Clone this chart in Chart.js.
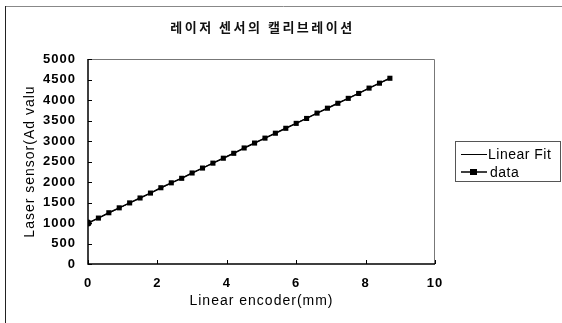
<!DOCTYPE html>
<html><head><meta charset="utf-8">
<script src="https://cdn.jsdelivr.net/npm/chart.js@4/dist/chart.umd.min.js"></script>
<style>html,body{margin:0;padding:0;background:#fff;overflow:hidden}#wrap{position:relative;width:562px;height:323px}canvas{display:block}</style>
</head><body><div id="wrap"><canvas id="c" width="562" height="323"></canvas></div>
<script>
const chartTitle = '레이저 센서의 캘리브레이션';
const xAxisTitle = 'Linear encoder(mm)';
const yAxisTitle = 'Laser sensor(Ad valu';
const seriesNames = ['Linear Fit', 'data'];
const encoderMm = [0, 0.3, 0.6, 0.9, 1.2, 1.5, 1.8, 2.1, 2.4, 2.7, 3.0, 3.3, 3.6, 3.9, 4.2, 4.5, 4.8, 5.1, 5.4, 5.7, 6.0, 6.3, 6.6, 6.9, 7.2, 7.5, 7.8, 8.1, 8.4, 8.7];
const sensorValues = [1000, 1120, 1250, 1370, 1490, 1610, 1730, 1860, 1980, 2090, 2220, 2340, 2460, 2580, 2700, 2830, 2950, 3070, 3190, 3310, 3430, 3550, 3680, 3800, 3920, 4040, 4160, 4290, 4410, 4530];
const fitMm = [0, 8.7];
const fitValues = [1000, 4530];
const xTicks = [0, 2, 4, 6, 8, 10];
const yTicks = [0, 500, 1000, 1500, 2000, 2500, 3000, 3500, 4000, 4500, 5000];

const dataPoints = encoderMm.map((x, i) => ({x, y: sensorValues[i]}));
const fitPoints = fitMm.map((x, i) => ({x, y: fitValues[i]}));
const pointStyles = encoderMm.map((x, i) => i === 0 ? 'circle' : 'rect');

const FONT = '"Liberation Sans", Arial, sans-serif';

const decor = {
  id: 'decor',
  beforeDraw(chart) {
    const ctx = chart.ctx;
    ctx.save();
    ctx.fillStyle = '#fff';
    ctx.fillRect(0, 0, chart.width, chart.height);
    ctx.strokeStyle = '#888';
    ctx.lineWidth = 1;
    ctx.beginPath(); ctx.moveTo(5, 6.5); ctx.lineTo(562, 6.5); ctx.stroke();
    ctx.strokeStyle = '#222';
    ctx.beginPath(); ctx.moveTo(5.5, 6); ctx.lineTo(5.5, 323); ctx.stroke();
    ctx.fillStyle = '#111';
    ctx.font = 'bold 13px "Noto Sans CJK KR"';
    ctx.letterSpacing = '2.5px';
    ctx.textAlign = 'center';
    ctx.textBaseline = 'middle';
    const a = chart.chartArea;
    ctx.fillText(chartTitle, (a.left + a.right) / 2 + 1, 27);
    ctx.restore();
    ctx.letterSpacing = '1px';
  },
  afterDatasetsDraw(chart) {
    const ctx = chart.ctx;
    const a = chart.chartArea;
    const xs = chart.scales.x, ys = chart.scales.y;
    ctx.save();
    ctx.letterSpacing = '0px';
    ctx.strokeStyle = '#777';
    ctx.lineWidth = 1;
    ctx.beginPath();
    ctx.moveTo(a.left, a.top + 0.5); ctx.lineTo(a.right - 0.5, a.top + 0.5); ctx.lineTo(a.right - 0.5, a.bottom);
    ctx.stroke();
    ctx.strokeStyle = '#000';
    ctx.lineWidth = 1.5;
    ctx.beginPath();
    ctx.moveTo(a.left, a.top); ctx.lineTo(a.left, a.bottom); ctx.lineTo(a.right, a.bottom);
    ctx.stroke();
    ctx.lineWidth = 1;
    ctx.beginPath();
    yTicks.forEach(v => { const y = Math.round(ys.getPixelForValue(v)) + 0.5; ctx.moveTo(a.left, y); ctx.lineTo(a.left + 4, y); });
    xTicks.forEach(v => { const x = Math.round(xs.getPixelForValue(v)) + 0.5; ctx.moveTo(x, a.bottom); ctx.lineTo(x, a.bottom - 4); });
    ctx.stroke();
    const lx = 455, ly = 141, lw = 105, lh = 40;
    ctx.strokeStyle = '#555';
    ctx.strokeRect(lx + 0.5, ly + 0.5, lw, lh);
    ctx.strokeStyle = '#000';
    ctx.fillStyle = '#000';
    const rows = [154, 172];
    ctx.lineWidth = 1;
    ctx.beginPath(); ctx.moveTo(461, rows[0] + 0.5); ctx.lineTo(487, rows[0] + 0.5); ctx.stroke();
    ctx.lineWidth = 1.5;
    ctx.beginPath(); ctx.moveTo(461, rows[1]); ctx.lineTo(487, rows[1]); ctx.stroke();
    ctx.fillRect(470, rows[1] - 3, 7, 6);
    ctx.font = '14px ' + FONT;
    ctx.letterSpacing = '0.5px';
    ctx.textAlign = 'left';
    ctx.textBaseline = 'middle';
    const ds = chart.data.datasets;
    ctx.fillText(ds[0].label, 488, rows[0] + 1);
    ctx.fillText(ds[1].label, 490, rows[1] + 1);
    ctx.restore();
  }
};

new Chart(document.getElementById('c'), {
  type: 'scatter',
  data: {
    datasets: [
      { label: seriesNames[0], data: fitPoints, showLine: true, borderColor: '#000', borderWidth: 1, pointRadius: 0, order: 2 },
      { label: seriesNames[1], data: dataPoints, showLine: true, borderColor: '#000', backgroundColor: '#000', borderWidth: 1.5,
        pointStyle: pointStyles, pointRadius: 3.6, pointBorderWidth: 0, order: 1 }
    ]
  },
  options: {
    responsive: false,
    animation: false,
    devicePixelRatio: 1,
    layout: { padding: { left: 14, right: 127, top: 59, bottom: 0 } },
    plugins: { legend: { display: false }, title: { display: false }, tooltip: { enabled: false } },
    scales: {
      x: {
        type: 'linear', min: 0, max: 10,
        afterBuildTicks: s => { s.ticks = xTicks.map(v => ({value: v})); },
        afterFit: s => { s.height = 59; },
        grid: { display: false, drawTicks: false },
        border: { display: false },
        ticks: { color: '#000', font: { family: FONT, size: 13, weight: 'bold' }, padding: 12, maxRotation: 0, callback: v => String(v) },
        title: { display: true, text: xAxisTitle, color: '#000', font: { family: FONT, size: 14 }, padding: { top: 0, bottom: 13 } }
      },
      y: {
        type: 'linear', min: 0, max: 5000,
        afterBuildTicks: s => { s.ticks = yTicks.map(v => ({value: v})); },
        afterFit: s => { s.width = 74; },
        grid: { display: false, drawTicks: false },
        border: { display: false },
        ticks: { color: '#000', font: { family: FONT, size: 13, weight: 'bold' }, padding: 12, callback: v => String(v) },
        title: { display: true, text: yAxisTitle, color: '#000', font: { family: FONT, size: 14 }, padding: { top: 8, bottom: 0 } }
      }
    }
  },
  plugins: [decor]
});
</script></body></html>
